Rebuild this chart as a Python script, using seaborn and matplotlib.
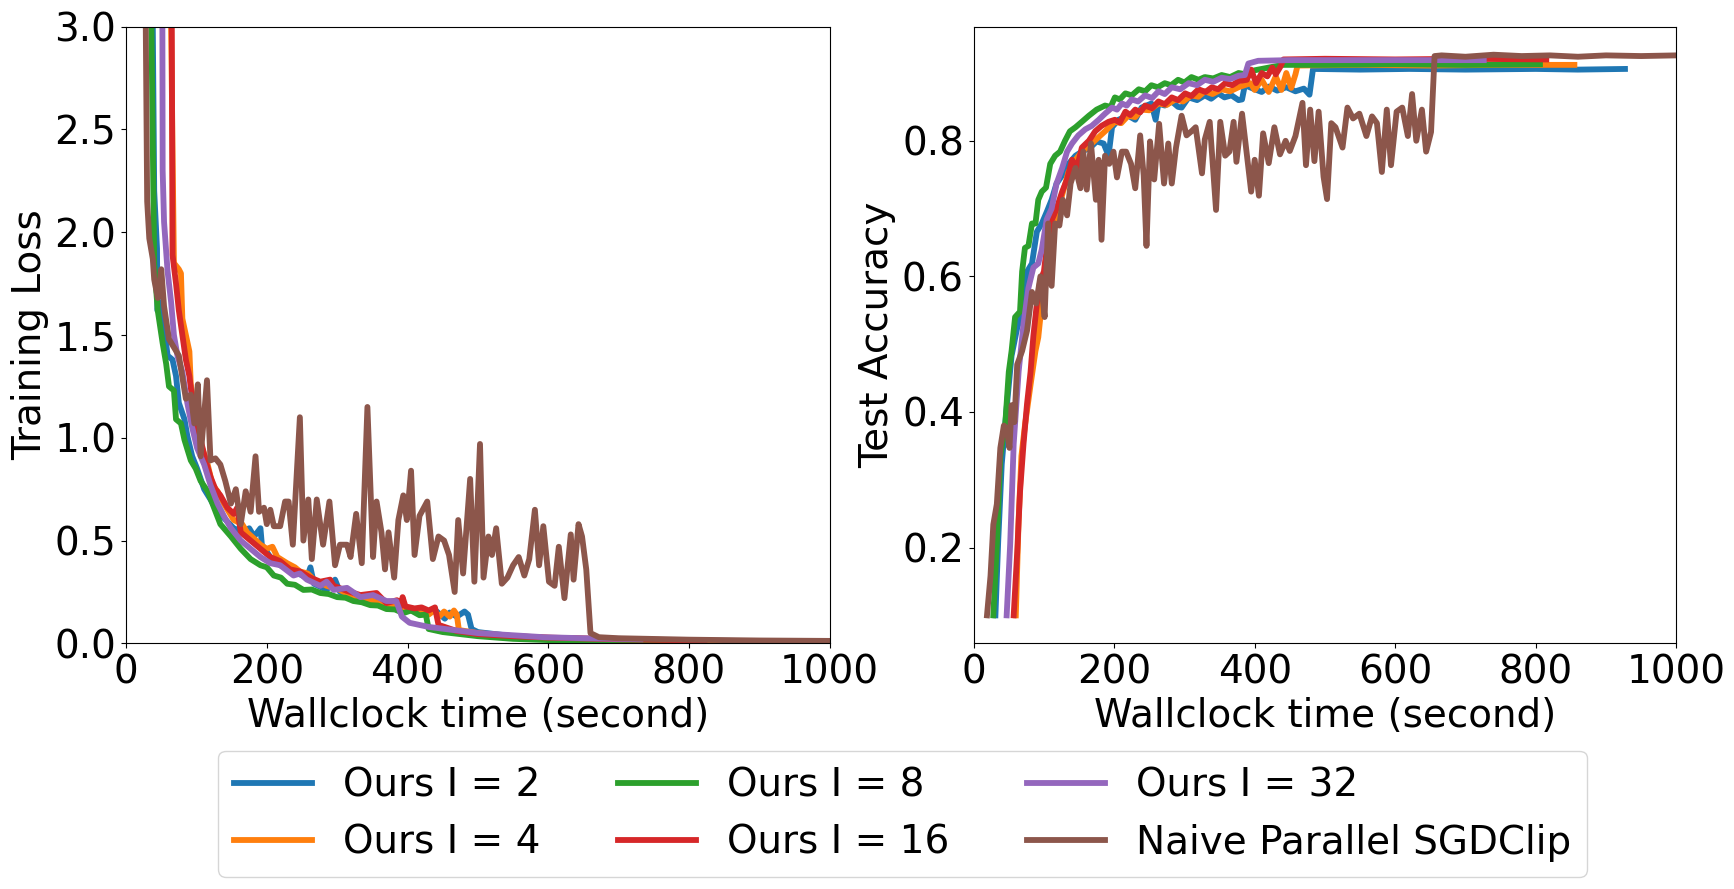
import pandas as pd
import seaborn as sns
import matplotlib.pyplot as plt

labels = ['Ours I = 2', 'Ours I = 4', 'Ours I = 8', 'Ours I = 16', 'Ours I = 32',
          'Naive Parallel SGDClip']
colors = ['#1f77b4', '#ff7f0e', '#2ca02c', '#d62728', '#9467bd', '#8c564b']

# (wallclock seconds, training loss)
blue_loss = [(36, 6.0), (38, 3.0), (40, 2.2), (44, 1.92), (44.5, 1.62), (50, 1.66), (59, 1.40),
             (66, 1.38), (71, 1.30), (75, 1.17), (83, 1.09), (87, 1.01), (94, 0.91), (101, 0.85),
             (111, 0.75), (120, 0.70), (130, 0.64), (139, 0.61), (153, 0.56), (167, 0.54),
             (175, 0.56), (182, 0.52), (191, 0.56), (193, 0.48), (205, 0.42), (219, 0.38),
             (238, 0.35), (257, 0.32), (262, 0.37), (267, 0.29), (285, 0.26), (297, 0.31),
             (304, 0.25), (323, 0.235), (351, 0.206), (370, 0.186), (384, 0.206), (394, 0.17),
             (405, 0.16), (420, 0.15), (440, 0.16), (453, 0.12), (460, 0.15), (470, 0.13),
             (481, 0.155), (486, 0.14), (491, 0.07), (500, 0.055), (550, 0.035), (600, 0.025),
             (700, 0.018), (800, 0.014), (927, 0.010)]
orange_loss = [(62, 6.0), (64, 3.0), (68, 1.85), (75, 1.82), (78, 1.80), (80, 1.58), (85, 1.50),
               (90, 1.42), (92, 1.26), (97, 1.15), (101, 1.03), (108, 0.95), (116, 0.87),
               (123, 0.77), (130, 0.74), (139, 0.68), (153, 0.60), (165, 0.58), (172, 0.54),
               (185, 0.50), (191, 0.48), (200, 0.46), (208, 0.47), (215, 0.42), (229, 0.39),
               (240, 0.37), (247, 0.35), (258, 0.34), (267, 0.31), (285, 0.28), (304, 0.26),
               (323, 0.225), (340, 0.22), (351, 0.206), (375, 0.176), (390, 0.18), (398, 0.167),
               (417, 0.147), (430, 0.14), (438, 0.16), (445, 0.13), (452, 0.155), (460, 0.13),
               (466, 0.16), (470, 0.14), (473, 0.065), (500, 0.05), (550, 0.035), (600, 0.027),
               (700, 0.018), (800, 0.013), (855, 0.011)]
green_loss = [(34, 6.0), (36, 3.0), (40, 1.85), (45, 1.62), (52, 1.46), (57, 1.36), (61, 1.25),
              (68, 1.23), (71, 1.09), (78, 1.07), (83, 0.99), (92, 0.89), (99, 0.85), (106, 0.79),
              (116, 0.74), (125, 0.66), (134, 0.58), (149, 0.52), (163, 0.46), (177, 0.41),
              (191, 0.38), (200, 0.37), (210, 0.33), (220, 0.32), (229, 0.29), (240, 0.285),
              (252, 0.26), (264, 0.262), (276, 0.245), (288, 0.24), (300, 0.225), (312, 0.222),
              (323, 0.206), (335, 0.2), (347, 0.186), (358, 0.184), (370, 0.167), (382, 0.165),
              (394, 0.147), (405, 0.16), (417, 0.137), (426, 0.14), (430, 0.07), (450, 0.055),
              (500, 0.035), (550, 0.022), (600, 0.016), (700, 0.011), (806, 0.009)]
red_loss = [(63, 6.0), (65, 3.0), (66, 1.89), (71, 1.75), (75, 1.62), (80, 1.50), (85, 1.38),
            (90, 1.30), (94, 1.19), (99, 1.07), (106, 0.99), (113, 0.89), (120, 0.81), (127, 0.75),
            (134, 0.72), (144, 0.66), (153, 0.63), (158, 0.66), (163, 0.54), (177, 0.50),
            (191, 0.46), (205, 0.42), (219, 0.40), (233, 0.36), (247, 0.35), (262, 0.32),
            (276, 0.30), (290, 0.31), (295, 0.28), (314, 0.255), (333, 0.235), (356, 0.245),
            (370, 0.196), (385, 0.21), (390, 0.18), (393, 0.225), (397, 0.18), (410, 0.17),
            (420, 0.175), (430, 0.16), (439, 0.175), (444, 0.09), (470, 0.06), (500, 0.045),
            (550, 0.035), (600, 0.028), (700, 0.02), (822, 0.014)]
purple_loss = [(50, 6.0), (52, 2.30), (54, 2.05), (59, 1.81), (64, 1.66), (68, 1.50), (73, 1.40),
               (80, 1.32), (87, 1.17), (94, 1.05), (101, 0.95), (111, 0.87), (120, 0.77),
               (130, 0.68), (139, 0.62), (149, 0.56), (163, 0.50), (177, 0.46), (191, 0.42),
               (205, 0.39), (219, 0.38), (238, 0.33), (247, 0.34), (257, 0.31), (276, 0.28),
               (285, 0.30), (295, 0.26), (314, 0.27), (333, 0.225), (351, 0.235), (370, 0.206),
               (384, 0.206), (392, 0.13), (403, 0.10), (430, 0.08), (500, 0.05), (594, 0.03),
               (650, 0.025), (731, 0.02)]
brown_loss = [(26, 6.0), (28, 3.0), (30, 2.15), (33, 1.97), (38, 1.87), (40, 1.77), (45, 1.68),
              (50, 1.82), (54, 1.64), (61, 1.48), (68, 1.44), (75, 1.40), (85, 1.19), (92, 1.21),
              (97, 1.07), (102, 1.26), (106, 0.91), (115, 1.28), (120, 0.89), (127, 0.90),
              (134, 0.87), (141, 0.79), (149, 0.68), (156, 0.75), (163, 0.58), (170, 0.74),
              (177, 0.64), (184, 0.91), (189, 0.64), (196, 0.66), (200, 0.58), (205, 0.65),
              (210, 0.57), (219, 0.57), (226, 0.69), (231, 0.69), (237, 0.48), (247, 1.10),
              (252, 0.50), (259, 0.70), (264, 0.41), (271, 0.70), (280, 0.48), (289, 0.69),
              (297, 0.38), (304, 0.48), (314, 0.48), (319, 0.42), (327, 0.63), (335, 0.39),
              (343, 1.15), (351, 0.42), (356, 0.69), (363, 0.54), (368, 0.36), (373, 0.54),
              (381, 0.32), (387, 0.60), (394, 0.72), (399, 0.60), (405, 0.84), (410, 0.43),
              (417, 0.62), (428, 0.69), (436, 0.41), (444, 0.52), (452, 0.50), (459, 0.43),
              (467, 0.25), (472, 0.60), (479, 0.34), (489, 0.80), (495, 0.30), (503, 0.97),
              (508, 0.32), (515, 0.52), (520, 0.43), (526, 0.56), (534, 0.29), (542, 0.32),
              (550, 0.38), (558, 0.42), (566, 0.33), (573, 0.41), (581, 0.65), (587, 0.38),
              (593, 0.57), (601, 0.30), (609, 0.28), (615, 0.47), (623, 0.22), (632, 0.53),
              (636, 0.31), (643, 0.58), (648, 0.52), (654, 0.36), (660, 0.05), (672, 0.03),
              (700, 0.025), (800, 0.018), (900, 0.014), (1000, 0.012)]

# (wallclock seconds, test accuracy)
blue_acc = [(31, 0.10), (35, 0.21), (40, 0.323), (47, 0.406), (54, 0.483), (62, 0.524), (69, 0.548),
            (76, 0.607), (83, 0.619), (90, 0.666), (97, 0.678), (104, 0.695), (111, 0.713),
            (118, 0.737), (126, 0.749), (135, 0.766), (145, 0.778), (154, 0.784), (166, 0.79),
            (175, 0.799), (185, 0.796), (192, 0.778), (197, 0.82), (206, 0.831), (220, 0.837),
            (230, 0.831), (239, 0.849), (253, 0.855), (259, 0.831), (263, 0.855), (272, 0.852),
            (282, 0.858), (291, 0.85), (296, 0.849), (306, 0.864), (318, 0.86), (329, 0.867),
            (338, 0.862), (348, 0.87), (357, 0.864), (367, 0.867), (377, 0.86), (382, 0.861),
            (386, 0.882), (400, 0.876), (410, 0.872), (420, 0.88), (432, 0.874), (445, 0.879),
            (458, 0.873), (470, 0.877), (478, 0.868), (483, 0.906), (550, 0.905), (620, 0.906),
            (700, 0.905), (800, 0.906), (860, 0.905), (927, 0.906)]
orange_acc = [(60, 0.10), (64, 0.24), (68, 0.335), (73, 0.38), (81, 0.44), (88, 0.49), (92, 0.51),
              (100, 0.59), (107, 0.62), (116, 0.678), (126, 0.72), (135, 0.754), (145, 0.772),
              (154, 0.784), (168, 0.796), (187, 0.814), (201, 0.828), (210, 0.826), (220, 0.837),
              (230, 0.835), (239, 0.846), (250, 0.845), (263, 0.855), (275, 0.853), (287, 0.861),
              (298, 0.858), (310, 0.867), (320, 0.865), (329, 0.873), (340, 0.869), (353, 0.876),
              (365, 0.873), (377, 0.879), (394, 0.885), (400, 0.875), (410, 0.89), (420, 0.872),
              (430, 0.895), (438, 0.875), (445, 0.9), (452, 0.878), (458, 0.898), (461, 0.911),
              (550, 0.912), (650, 0.911), (750, 0.912), (855, 0.912)]
green_acc = [(28, 0.10), (33, 0.205), (38, 0.335), (45, 0.382), (50, 0.459), (54, 0.49), (59, 0.54),
             (66, 0.548), (69, 0.607), (73, 0.642), (78, 0.645), (83, 0.678), (88, 0.678),
             (92, 0.713), (97, 0.725), (103, 0.731), (109, 0.766), (116, 0.778), (123, 0.784),
             (130, 0.80), (137, 0.814), (145, 0.82), (154, 0.828), (164, 0.837), (175, 0.846),
             (187, 0.852), (195, 0.85), (201, 0.864), (208, 0.861), (216, 0.87), (225, 0.867),
             (235, 0.876), (244, 0.873), (253, 0.882), (262, 0.879), (272, 0.885), (281, 0.882),
             (291, 0.89), (300, 0.886), (310, 0.894), (320, 0.89), (329, 0.894), (341, 0.892),
             (353, 0.897), (365, 0.894), (377, 0.90), (388, 0.898), (400, 0.904), (420, 0.908),
             (440, 0.912), (500, 0.912), (600, 0.913), (700, 0.912), (806, 0.913)]
red_acc = [(57, 0.10), (62, 0.193), (66, 0.282), (71, 0.353), (76, 0.412), (81, 0.459), (85, 0.512),
           (90, 0.56), (95, 0.595), (100, 0.607), (104, 0.642), (109, 0.678), (114, 0.69),
           (118, 0.70), (126, 0.725), (133, 0.743), (140, 0.772), (147, 0.76), (154, 0.79),
           (164, 0.80), (173, 0.814), (182, 0.822), (192, 0.828), (201, 0.831), (208, 0.827),
           (216, 0.843), (223, 0.838), (230, 0.846), (237, 0.842), (244, 0.852), (254, 0.848),
           (263, 0.858), (272, 0.854), (282, 0.864), (291, 0.86), (301, 0.87), (310, 0.866),
           (320, 0.876), (330, 0.872), (339, 0.879), (348, 0.876), (358, 0.885), (368, 0.882),
           (377, 0.888), (389, 0.89), (395, 0.905), (402, 0.885), (410, 0.9), (418, 0.895),
           (425, 0.908), (430, 0.898), (437, 0.91), (441, 0.92), (500, 0.921), (600, 0.92),
           (700, 0.921), (815, 0.92)]
purple_acc = [(47, 0.10), (52, 0.205), (57, 0.353), (64, 0.459), (71, 0.53), (78, 0.583), (85, 0.613),
              (92, 0.619), (97, 0.64), (104, 0.684), (111, 0.70), (118, 0.737), (126, 0.76),
              (133, 0.784), (140, 0.796), (149, 0.808), (159, 0.817), (168, 0.822), (178, 0.831),
              (187, 0.84), (197, 0.849), (204, 0.846), (211, 0.855), (218, 0.852), (225, 0.861),
              (234, 0.858), (244, 0.867), (254, 0.863), (263, 0.873), (272, 0.869), (282, 0.879),
              (294, 0.876), (306, 0.885), (318, 0.882), (329, 0.89), (341, 0.887), (353, 0.893),
              (365, 0.891), (377, 0.896), (386, 0.897), (391, 0.914), (405, 0.918), (450, 0.919),
              (550, 0.919), (650, 0.919), (726, 0.919)]
brown_acc = [(19, 0.10), (24, 0.158), (28, 0.234), (33, 0.264), (38, 0.347), (43, 0.38), (47, 0.376),
             (51, 0.347), (54, 0.41), (58, 0.385), (62, 0.47), (69, 0.49), (76, 0.52), (83, 0.577),
             (89, 0.56), (95, 0.60), (101, 0.54), (106, 0.678), (111, 0.586), (116, 0.678),
             (122, 0.675), (127, 0.713), (133, 0.69), (138, 0.737), (145, 0.76), (152, 0.73),
             (156, 0.784), (161, 0.728), (167, 0.796), (174, 0.713), (178, 0.772), (182, 0.654),
             (187, 0.778), (193, 0.766), (199, 0.784), (204, 0.746), (211, 0.784), (217, 0.784),
             (224, 0.766), (230, 0.73), (237, 0.808), (242, 0.749), (246, 0.645), (251, 0.799),
             (257, 0.743), (264, 0.825), (271, 0.737), (277, 0.796), (282, 0.737), (288, 0.79),
             (296, 0.837), (303, 0.808), (310, 0.814), (316, 0.82), (325, 0.752), (329, 0.802),
             (336, 0.828), (345, 0.698), (351, 0.828), (358, 0.778), (364, 0.784), (370, 0.828),
             (374, 0.769), (382, 0.84), (387, 0.796), (395, 0.725), (400, 0.772), (406, 0.719),
             (412, 0.811), (420, 0.767), (428, 0.82), (436, 0.78), (444, 0.80), (450, 0.785),
             (458, 0.807), (468, 0.856), (473, 0.764), (479, 0.846), (485, 0.77), (491, 0.843),
             (498, 0.747), (503, 0.714), (509, 0.826), (515, 0.82), (525, 0.79), (532, 0.849),
             (540, 0.833), (549, 0.84), (559, 0.807), (567, 0.836), (574, 0.826), (581, 0.754),
             (588, 0.846), (594, 0.764), (602, 0.843), (610, 0.849), (618, 0.807), (624, 0.869),
             (630, 0.80), (638, 0.846), (644, 0.784), (651, 0.813), (656, 0.925), (666, 0.926),
             (700, 0.924), (740, 0.927), (780, 0.925), (820, 0.926), (860, 0.924), (900, 0.926),
             (950, 0.925), (1000, 0.926)]


def to_long(series_list):
    rows = []
    for name, pts in zip(labels, series_list):
        for t, v in pts:
            rows.append({'time': t, 'value': v, 'method': name})
    return pd.DataFrame(rows)


loss_df = to_long([blue_loss, orange_loss, green_loss, red_loss, purple_loss, brown_loss])
acc_df = to_long([blue_acc, orange_acc, green_acc, red_acc, purple_acc, brown_acc])

fig = plt.figure(figsize=(17.34, 8.89), dpi=100)
ax1 = fig.add_axes([0.0727, 0.2763, 0.4058, 0.6937])
ax2 = fig.add_axes([0.5615, 0.2763, 0.4052, 0.6937])

sns.lineplot(data=loss_df, x='time', y='value', hue='method', hue_order=labels,
             palette=colors, estimator=None, linewidth=4.2, ax=ax1, legend=False)
sns.lineplot(data=acc_df, x='time', y='value', hue='method', hue_order=labels,
             palette=colors, estimator=None, linewidth=4.2, ax=ax2, legend=False)

ax1.set_xlim(0, 1000)
ax1.set_ylim(0, 3)
ax1.set_ylabel('Training Loss', fontsize=28)
ax1.set_xlabel('Wallclock time (second)', fontsize=28)

ax2.set_xlim(0, 1000)
ax2.set_yticks([0.2, 0.4, 0.6, 0.8])
ax2.set_ylabel('Test Accuracy', fontsize=28)
ax2.set_xlabel('Wallclock time (second)', fontsize=28)

for ax in (ax1, ax2):
    ax.tick_params(labelsize=28)

fig.legend(handles=ax1.lines[:6], labels=labels, ncol=3, loc='upper center',
           bbox_to_anchor=(0.5205, 0.1556), fontsize=28, borderaxespad=0)

fig.savefig('out.png', dpi=100)
